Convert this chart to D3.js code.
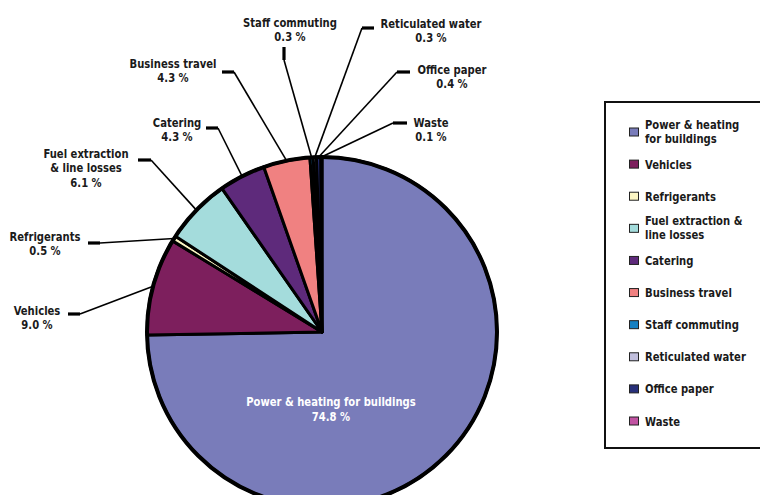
<!DOCTYPE html>
<html>
<head>
<meta charset="utf-8">
<script src="https://cdn.jsdelivr.net/npm/d3@7"></script>
<style>
  html, body { margin: 0; padding: 0; background: #fff; }
  svg { display: block; }
  text { font-family: "DejaVu Sans Condensed", "Liberation Sans Narrow", sans-serif; font-weight: bold; font-size: 12.4px; fill: #1a1a1a; }
</style>
</head>
<body>
<svg id="chart" width="760" height="495"></svg>
<script>
// Emission sources and their share of the total (%)
const categories = [
  "Power & heating for buildings", "Vehicles", "Refrigerants",
  "Fuel extraction & line losses", "Catering", "Business travel",
  "Staff commuting", "Reticulated water", "Office paper", "Waste"
];
const values = [74.8, 9.0, 0.5, 6.1, 4.3, 4.3, 0.3, 0.3, 0.4, 0.1];
const legendLines = [
  ["Power & heating", "for buildings"], ["Vehicles"], ["Refrigerants"],
  ["Fuel extraction &", "line losses"], ["Catering"], ["Business travel"],
  ["Staff commuting"], ["Reticulated water"], ["Office paper"], ["Waste"]
];
const calloutLines = [
  null, ["Vehicles"], ["Refrigerants"], ["Fuel extraction", "& line losses"],
  ["Catering"], ["Business travel"], ["Staff commuting"], ["Reticulated water"],
  ["Office paper"], ["Waste"]
];
const colors = ["#797cba", "#7d1f5d", "#fcf6c4", "#a4dcdc", "#5e2a7b",
                "#f08181", "#1580c2", "#c1bfdd", "#28307a", "#c153a2"];

// Callout placement: text centre/baseline and the short bar the leader starts from
const calloutLayout = [
  null,
  { tx: 37,  ty: 315, bar: [68, 314, 80, 314] },
  { tx: 45,  ty: 241, bar: [88, 243, 100, 243] },
  { tx: 86,  ty: 158, bar: [138, 160, 151, 160] },
  { tx: 177, ty: 127, bar: [206, 128, 218, 128] },
  { tx: 173, ty: 68,  bar: [222, 72, 234, 72] },
  { tx: 290, ty: 27,  bar: [284, 47, 284, 60] },
  { tx: 431, ty: 28,  bar: [374, 28, 362, 28] },
  { tx: 452, ty: 74,  bar: [410, 72, 397, 72] },
  { tx: 431, ty: 127, bar: [407, 123, 393, 123] }
];

const svg = d3.select("#chart");
const cx = 322, cy = 332, r = 175;
const narrow = 0.9;   // horizontal squeeze for a condensed look

// Multi-line text block anchored at (x, y) = first baseline
function textBlock(parent, x, y, lines, step, anchor) {
  const t = parent.append("text")
    .attr("transform", `translate(${x},${y}) scale(${narrow},1)`)
    .attr("text-anchor", anchor);
  lines.forEach((s, k) => t.append("tspan").attr("x", 0).attr("y", k * step).text(s));
  return t;
}

const data = categories.map((c, i) => ({ name: c, value: values[i], i }));
const pie = d3.pie().sort(null).value(d => d.value).startAngle(0).endAngle(2 * Math.PI);
const arcs = pie(data);
const arc = d3.arc().innerRadius(0).outerRadius(r);

const g = svg.append("g").attr("transform", `translate(${cx},${cy})`);

g.selectAll("path.slice")
  .data(arcs)
  .join("path")
  .attr("class", "slice")
  .attr("d", arc)
  .attr("fill", d => colors[d.data.i])
  .attr("stroke", "#000")
  .attr("stroke-width", 3)
  .attr("stroke-linejoin", "round");

g.append("circle")
  .attr("r", r)
  .attr("fill", "none")
  .attr("stroke", "#000")
  .attr("stroke-width", 4);

// Leader lines and callout labels
arcs.forEach(a => {
  const i = a.data.i;
  const L = calloutLayout[i];
  if (!L) return;
  const mid = (a.startAngle + a.endAngle) / 2;
  const px = cx + r * Math.sin(mid);
  const py = cy - r * Math.cos(mid);
  const [x1, y1, x2, y2] = L.bar;
  svg.append("line")
    .attr("x1", x1).attr("y1", y1).attr("x2", x2).attr("y2", y2)
    .attr("stroke", "#000").attr("stroke-width", 3.2);
  svg.append("line")
    .attr("x1", x2).attr("y1", y2).attr("x2", px).attr("y2", py)
    .attr("stroke", "#000").attr("stroke-width", 1.6);
  const lines = calloutLines[i].concat([d3.format(".1f")(values[i]) + " %"]);
  textBlock(svg, L.tx, L.ty, lines, 14.5, "middle");
});

// Label inside the largest slice
textBlock(svg, 331, 406, [categories[0], d3.format(".1f")(values[0]) + " %"], 15.5, "middle")
  .style("fill", "#fff");

// Legend
const legend = svg.append("g");
legend.append("rect")
  .attr("x", 605).attr("y", 102).attr("width", 170).attr("height", 346)
  .attr("fill", "#fff").attr("stroke", "#111").attr("stroke-width", 2);

const rowY = d3.scaleLinear().domain([0, categories.length - 1]).range([132, 421]);
categories.forEach((c, i) => {
  const yc = rowY(i);
  legend.append("rect")
    .attr("x", 629.5).attr("y", yc - 4).attr("width", 9).attr("height", 8)
    .attr("fill", colors[i]).attr("stroke", "#222").attr("stroke-width", 1);
  const ls = legendLines[i];
  const y0 = ls.length === 1 ? yc + 4.5 : yc - 3;
  textBlock(legend, 645, y0, ls, 14, "start");
});
</script>
</body>
</html>
